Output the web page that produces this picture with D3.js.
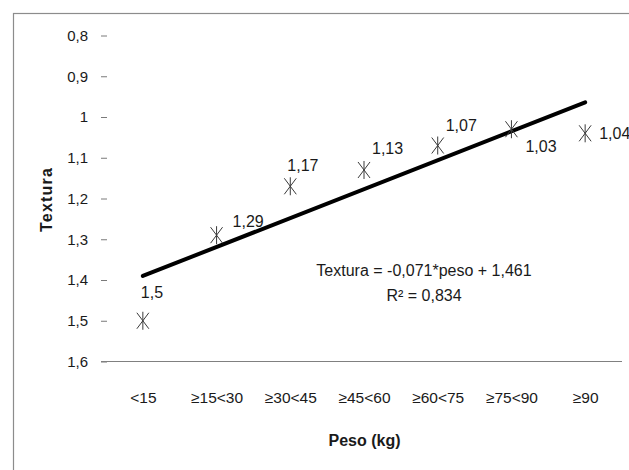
<!DOCTYPE html>
<html>
<head>
<meta charset="utf-8">
<script src="https://cdn.jsdelivr.net/npm/d3@7"></script>
<style>
	body { margin: 0; background: #fff; }
	svg { display: block; font-family: "Liberation Sans", Arial, sans-serif; }
</style>
</head>
<body>
<div id="chart"></div>
<script>
// categories of weight and the texture mean for each one
var categories = ["<15", "\u226515<30", "\u226530<45", "\u226545<60", "\u226560<75", "\u226575<90", "\u226590"];
var textura = [1.5, 1.29, 1.17, 1.13, 1.07, 1.03, 1.04];
var yTicks = [0.8, 0.9, 1.0, 1.1, 1.2, 1.3, 1.4, 1.5, 1.6];
// fitted trend line (as printed on the chart)
var trendSlope = -0.071;
var trendIntercept = 1.461;
var trendText = ["Textura = -0,071*peso + 1,461", "R\u00B2 = 0,834"];

// label nudges (px) for each point label, like moved by hand in the original
var labelOffsets = [[-2, -28], [16, -14], [-3, -21], [8, -22], [8, -20], [14, 17], [14, 0]];

var width = 629, height = 470;
var plot = {left: 101, right: 622, top: 35.5, bottom: 361.5};

var svg = d3.select("#chart")
	.append("svg")
		.attr("width", width)
		.attr("height", height);

// outer chart border (runs off the right and bottom of the picture)
svg.append("rect")
	.attr("x", 13.5).attr("y", 13.5)
	.attr("width", 640).attr("height", 500)
	.attr("fill", "none")
	.attr("stroke", "#8c8c8c")
	.attr("stroke-width", 1.2);

var fmt = function(d) { return d3.format("")(+d.toFixed(1)).replace(".", ","); };

var x = d3.scalePoint()
	.domain(categories)
	.range([106, plot.right])
	.padding(0.5);

// y axis is reversed: 0,8 on top, 1,6 at the bottom
var y = d3.scaleLinear()
	.domain([0.8, 1.6])
	.range([plot.top, plot.bottom]);

var xIndex = d3.scaleLinear()
	.domain([1, categories.length])
	.range([x(categories[0]), x(categories[categories.length - 1])]);

// y ticks: small dashes only, no axis line
var yaxis = svg.append("g")
	.attr("class", "y-axis")
	.attr("transform", "translate(" + plot.left + ",0)")
	.call(d3.axisRight(y).tickValues(yTicks).tickSize(6).tickFormat(""));
yaxis.select(".domain").remove();
yaxis.selectAll(".tick line").attr("stroke", "#7a7a7a");

svg.append("g")
	.selectAll("text")
	.data(yTicks)
	.enter()
		.append("text")
			.attr("x", 88)
			.attr("y", function(d) { return y(d); })
			.attr("dy", "0.35em")
			.attr("text-anchor", "end")
			.attr("font-size", "15px")
			.attr("fill", "#1a1a1a")
			.text(fmt);

// category axis sits at 1,6
var xaxis = svg.append("g")
	.attr("class", "x-axis")
	.attr("transform", "translate(0," + plot.bottom + ")")
	.call(d3.axisBottom(x).tickSize(0).tickPadding(30));
xaxis.select(".domain").remove();
xaxis.selectAll("text")
	.attr("font-size", "15.5px")
	.attr("font-family", "Liberation Sans, Arial, sans-serif")
	.attr("fill", "#1a1a1a");
xaxis.append("line")
	.attr("x1", plot.left).attr("x2", plot.right)
	.attr("y1", 0).attr("y2", 0)
	.attr("stroke", "#808080")
	.attr("stroke-width", 1);

// trend line
svg.append("line")
	.attr("x1", xIndex(1)).attr("y1", y(trendSlope * 1 + trendIntercept))
	.attr("x2", xIndex(categories.length)).attr("y2", y(trendSlope * categories.length + trendIntercept))
	.attr("stroke", "#000")
	.attr("stroke-width", 4)
	.attr("stroke-linecap", "round");

// asterisk markers
var marks = svg.append("g")
	.selectAll("g")
	.data(textura)
	.enter()
		.append("g")
			.attr("transform", function(d, i) { return "translate(" + x(categories[i]) + "," + y(d) + ")"; })
			.attr("stroke", "#3a3a3a")
			.attr("stroke-width", 1);
marks.append("line").attr("x1", -6).attr("y1", -8).attr("x2", 6).attr("y2", 8);
marks.append("line").attr("x1", -6).attr("y1", 8).attr("x2", 6).attr("y2", -8);
marks.append("line").attr("x1", 0).attr("y1", -9).attr("x2", 0).attr("y2", 9);

// point labels
svg.append("g")
	.selectAll("text")
	.data(textura)
	.enter()
		.append("text")
			.attr("x", function(d, i) { return x(categories[i]) + labelOffsets[i][0]; })
			.attr("y", function(d, i) { return y(d) + labelOffsets[i][1]; })
			.attr("dy", "0.35em")
			.attr("font-size", "16px")
			.attr("fill", "#1a1a1a")
			.text(function(d) { return String(d).replace(".", ","); });

// trend equation
svg.append("g")
	.selectAll("text")
	.data(trendText)
	.enter()
		.append("text")
			.attr("x", 424)
			.attr("y", function(d, i) { return 270 + i * 25; })
			.attr("dy", "0.35em")
			.attr("text-anchor", "middle")
			.attr("font-size", "16px")
			.attr("fill", "#1a1a1a")
			.text(function(d) { return d; });

// axis titles
svg.append("text")
	.attr("x", 364.5)
	.attr("y", 440)
	.attr("dy", "0.35em")
	.attr("text-anchor", "middle")
	.attr("font-size", "16px")
	.attr("font-weight", "bold")
	.attr("fill", "#1a1a1a")
	.text("Peso (kg)");

svg.append("text")
	.attr("transform", "translate(46,199.5) rotate(-90)")
	.attr("dy", "0.35em")
	.attr("text-anchor", "middle")
	.attr("font-size", "16px")
	.attr("font-weight", "bold")
	.attr("letter-spacing", "1.2px")
	.attr("fill", "#1a1a1a")
	.text("Textura");
</script>
</body>
</html>
